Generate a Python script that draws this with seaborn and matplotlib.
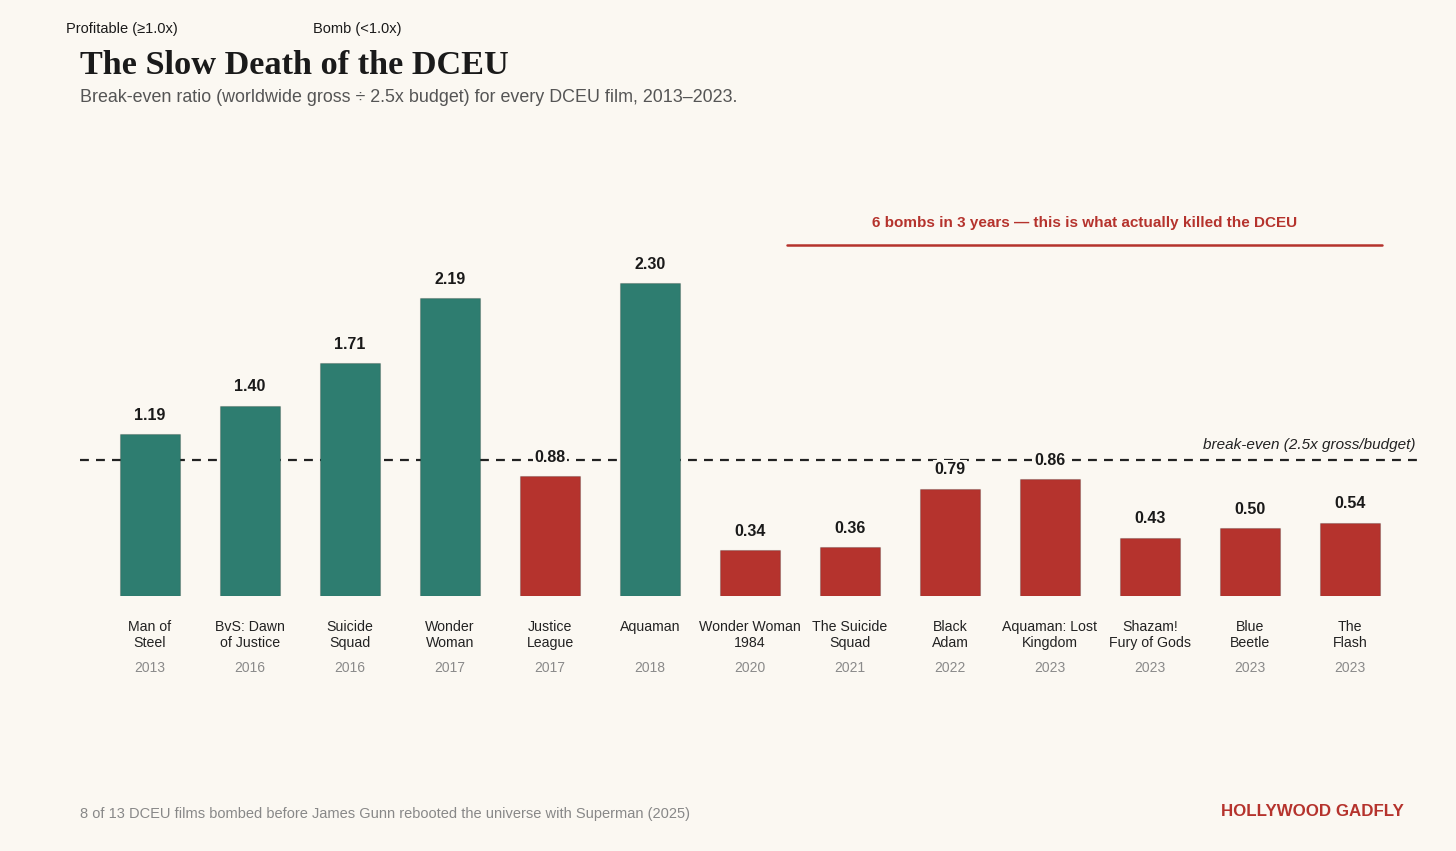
import seaborn as sns
import matplotlib.pyplot as plt
import pandas as pd
from matplotlib.transforms import blended_transform_factory

# data
films = ["Man of\nSteel", "BvS: Dawn\nof Justice", "Suicide\nSquad", "Wonder\nWoman",
         "Justice\nLeague", "Aquaman", "Wonder Woman\n1984", "The Suicide\nSquad",
         "Black\nAdam", "Aquaman: Lost\nKingdom", "Shazam!\nFury of Gods",
         "Blue\nBeetle", "The\nFlash"]
years = ["2013", "2016", "2016", "2017", "2017", "2018", "2020", "2021",
         "2022", "2023", "2023", "2023", "2023"]
ratios = [1.19, 1.40, 1.71, 2.19, 0.88, 2.30, 0.34, 0.36, 0.79, 0.86, 0.43, 0.50, 0.54]

BG = "#FBF8F2"
TEAL = "#2E7D70"
RED = "#B5332D"

sns.set_theme(style="white")
plt.rcParams["font.family"] = ["Liberation Sans", "DejaVu Sans"]

df = pd.DataFrame({"film": films, "year": years, "ratio": ratios})
df["status"] = ["Profitable" if r >= 1.0 else "Bomb" for r in ratios]

fig = plt.figure(figsize=(14.56, 8.51), dpi=100, facecolor=BG)
ax = fig.add_axes([80 / 1456, (851 - 596) / 851, 1340 / 1456, 408 / 851])
ax.set_facecolor(BG)

sns.barplot(data=df, x="film", y="ratio", hue="status",
            palette={"Profitable": TEAL, "Bomb": RED}, width=0.6, saturation=1,
            dodge=False, legend=False, ax=ax, zorder=2,
            edgecolor="#00000030", linewidth=0.8)

ax.set_xlim(-0.7, 12.7)
ax.set_ylim(0, 3.0)
ax.axhline(1.0, color="#222222", lw=1.6, ls=(0, (4, 3.2)), zorder=1)
ax.text(12.65, 1.06, "break-even (2.5x gross/budget)", ha="right", va="bottom",
        fontsize=11, style="italic", color="#222222")

for i, r in enumerate(ratios):
    ax.annotate(f"{r:.2f}", (i, r), xytext=(0, 13.5), textcoords="offset points",
                ha="center", va="center", fontsize=11.5, fontweight="bold",
                color="#1a1a1a", zorder=3,
                bbox=dict(boxstyle="square,pad=0.12", fc=BG, ec="none"))

ax.set_xticks(range(len(films)))
ax.set_xticklabels(films, fontsize=10.2, color="#222222", linespacing=1.2)
ax.tick_params(axis="x", length=0, pad=17)
ax.set_yticks([])
ax.set_xlabel("")
ax.set_ylabel("")
for s in ax.spines.values():
    s.set_visible(False)

trans = blended_transform_factory(ax.transData, ax.transAxes)
for i, y in enumerate(years):
    ax.annotate(y, (i, 0), xycoords=trans, xytext=(0, -51.5), textcoords="offset points",
                ha="center", va="center", fontsize=10, color="#8a8a8a")

# bomb streak annotation
ax.plot([6.37, 12.32], [2.58, 2.58], color=RED, lw=1.8, clip_on=False)
ax.text(9.345, 2.74, "6 bombs in 3 years \u2014 this is what actually killed the DCEU",
        ha="center", va="center", fontsize=11, fontweight="bold", color=RED)

# header
fig.text(66 / 1456, 1 - 29 / 851, "Profitable (\u22651.0x)", ha="left", va="center",
         fontsize=10.5, color="#1a1a1a")
fig.text(313 / 1456, 1 - 29 / 851, "Bomb (<1.0x)", ha="left", va="center",
         fontsize=10.5, color="#1a1a1a")
fig.text(80 / 1456, 1 - 65 / 851, "The Slow Death of the DCEU", ha="left", va="center",
         fontsize=24.7, fontweight="bold", color="#1a1a1a",
         family=["Liberation Serif", "DejaVu Serif"])
fig.text(80 / 1456, 1 - 97 / 851,
         "Break-even ratio (worldwide gross \u00f7 2.5x budget) for every DCEU film, 2013\u20132023.",
         ha="left", va="center", fontsize=12.9, color="#555555")

# footer
fig.text(80 / 1456, 1 - 814 / 851,
         "8 of 13 DCEU films bombed before James Gunn rebooted the universe with Superman (2025)",
         ha="left", va="center", fontsize=10.5, color="#888888")
fig.text(1404 / 1456, 1 - 812 / 851, "HOLLYWOOD GADFLY", ha="right", va="center",
         fontsize=12.2, fontweight="bold", color=RED)

fig.savefig("out.png", dpi=100, facecolor=BG)
